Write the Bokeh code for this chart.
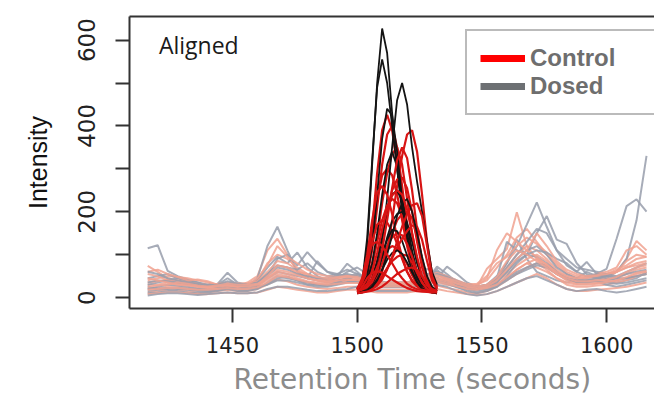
from bokeh.plotting import figure
from bokeh.models import Range1d, FixedTicker, LinearAxis, Legend, LegendItem, Label, Title
from bokeh.embed import file_html
from bokeh.resources import INLINE

# ---------------- data ----------------
# full-run traces (light colours), retention time grid (seconds)
base_time = [1416, 1420, 1424, 1428, 1432, 1436, 1440, 1444, 1448, 1452,
             1456, 1460, 1464, 1468, 1472, 1476, 1480, 1484, 1488, 1492,
             1496, 1500, 1504, 1508, 1512, 1516, 1520, 1524, 1528, 1532,
             1536, 1540, 1544, 1548, 1552, 1556, 1560, 1564, 1568, 1572,
             1576, 1580, 1584, 1588, 1592, 1596, 1600, 1604, 1608, 1612,
             1616]

dosed_base_1 = [115, 122, 62, 50, 42, 35, 28, 30, 45, 30, 25, 45, 120, 165, 110, 60, 45, 40, 35, 40,
                45, 40, 30, 30, 30, 30, 30, 35, 45, 65, 45, 30, 25, 20, 25, 40, 80, 135, 90, 60,
                50, 40, 35, 40, 45, 50, 50, 60, 90, 180, 330]
dosed_base_2 = [45, 50, 55, 45, 40, 35, 30, 32, 58, 35, 30, 40, 70, 95, 80, 105, 70, 50, 40, 45,
                60, 70, 55, 40, 35, 35, 35, 40, 55, 45, 72, 55, 35, 25, 30, 50, 80, 120, 170, 222,
                165, 110, 75, 60, 83, 55, 67, 137, 213, 229, 200]
dosed_base_3 = [30, 35, 40, 45, 38, 30, 28, 25, 30, 28, 30, 35, 50, 90, 100, 75, 106, 80, 60, 55,
                50, 55, 40, 30, 30, 30, 30, 45, 67, 55, 40, 35, 30, 25, 30, 45, 130, 110, 100, 150,
                190, 135, 125, 80, 55, 45, 40, 35, 40, 45, 60]
dosed_base_4 = [20, 25, 30, 28, 25, 22, 20, 22, 25, 22, 25, 30, 45, 60, 55, 50, 45, 85, 60, 50,
                79, 60, 40, 30, 30, 30, 30, 35, 40, 72, 55, 35, 25, 20, 22, 35, 60, 90, 110, 120,
                100, 70, 55, 45, 60, 50, 45, 40, 45, 50, 55]
dosed_base_5 = [10, 12, 15, 15, 12, 10, 12, 15, 20, 15, 15, 20, 35, 50, 45, 40, 30, 25, 25, 30,
                35, 40, 35, 25, 25, 25, 25, 30, 40, 45, 35, 25, 15, 10, 15, 25, 50, 80, 100, 95,
                80, 60, 45, 35, 40, 38, 30, 25, 30, 35, 40]
dosed_base_6 = [25, 20, 22, 20, 18, 15, 15, 18, 22, 20, 20, 25, 30, 40, 40, 35, 30, 30, 28, 35,
                45, 50, 40, 30, 30, 30, 30, 35, 50, 60, 45, 30, 20, 18, 20, 30, 45, 60, 70, 80,
                75, 55, 45, 40, 40, 45, 50, 45, 45, 50, 55]
dosed_base_7 = [5, 8, 10, 10, 8, 6, 8, 10, 12, 10, 10, 12, 20, 25, 25, 22, 18, 15, 15, 18,
                20, 25, 20, 15, 15, 15, 15, 18, 25, 30, 25, 15, 8, 5, 8, 15, 25, 35, 45, 50,
                40, 30, 20, 15, 18, 20, 15, 12, 15, 20, 25]
dosed_base_8 = [35, 40, 38, 35, 32, 30, 28, 30, 38, 32, 30, 35, 55, 75, 70, 65, 80, 60, 50, 55,
                65, 55, 45, 35, 35, 35, 35, 42, 55, 60, 50, 40, 30, 25, 28, 40, 70, 100, 130, 160,
                150, 110, 90, 70, 65, 60, 55, 50, 60, 70, 80]
dosed_base_9 = [60, 55, 45, 40, 36, 32, 30, 28, 32, 30, 28, 32, 50, 70, 65, 55, 50, 45, 45, 50,
                55, 50, 40, 32, 32, 32, 32, 38, 48, 55, 48, 38, 30, 25, 28, 40, 60, 85, 100, 110,
                105, 90, 80, 60, 50, 55, 50, 48, 55, 60, 65]
dosed_base_10 = [15, 18, 20, 22, 20, 18, 16, 18, 22, 20, 18, 22, 32, 45, 48, 40, 35, 30, 28, 32,
                 36, 36, 30, 24, 24, 24, 24, 28, 34, 38, 32, 24, 18, 14, 18, 26, 40, 55, 65, 75,
                 70, 55, 42, 36, 35, 38, 35, 32, 35, 40, 45]

control_base_1 = [74, 60, 45, 40, 35, 30, 28, 25, 30, 28, 35, 50, 110, 137, 100, 60, 45, 40, 38, 40,
                  45, 40, 30, 30, 30, 30, 30, 35, 40, 45, 35, 30, 25, 25, 67, 90, 113, 199, 120, 90,
                  70, 55, 45, 40, 40, 45, 50, 60, 90, 132, 110]
control_base_2 = [40, 45, 50, 48, 45, 40, 35, 30, 30, 28, 30, 40, 80, 100, 90, 70, 55, 45, 40, 45,
                  50, 45, 35, 30, 30, 30, 30, 40, 50, 55, 45, 35, 30, 30, 40, 70, 100, 140, 160, 130,
                  100, 75, 55, 45, 45, 50, 55, 60, 70, 80, 85]
control_base_3 = [30, 30, 35, 32, 30, 28, 25, 28, 30, 28, 28, 35, 55, 75, 70, 55, 45, 40, 35, 38,
                  40, 40, 35, 30, 30, 30, 30, 35, 40, 45, 38, 30, 25, 25, 30, 45, 70, 100, 120, 110,
                  90, 65, 50, 40, 40, 42, 45, 60, 85, 100, 95]
control_base_4 = [20, 22, 25, 25, 22, 20, 20, 22, 25, 22, 22, 28, 40, 55, 50, 40, 35, 30, 30, 32,
                  35, 35, 30, 25, 25, 25, 25, 28, 32, 35, 30, 25, 20, 20, 25, 35, 55, 75, 90, 100,
                  85, 60, 45, 35, 35, 38, 40, 45, 55, 65, 70]
control_base_5 = [12, 15, 18, 18, 15, 12, 12, 15, 18, 15, 15, 20, 30, 42, 38, 30, 25, 22, 20, 22,
                  25, 25, 20, 18, 18, 18, 18, 20, 25, 28, 22, 18, 12, 10, 15, 25, 40, 55, 70, 80,
                  65, 45, 30, 25, 25, 28, 30, 35, 40, 50, 55]
control_base_6 = [55, 50, 40, 35, 30, 25, 22, 20, 22, 20, 20, 25, 45, 60, 55, 45, 38, 35, 32, 35,
                  40, 42, 35, 30, 30, 30, 30, 32, 38, 42, 35, 28, 22, 20, 22, 30, 45, 65, 80, 70,
                  60, 45, 35, 30, 30, 32, 35, 40, 45, 55, 60]
control_base_7 = [8, 10, 12, 12, 10, 8, 8, 10, 12, 10, 10, 12, 18, 25, 22, 18, 15, 12, 12, 15,
                  18, 18, 15, 12, 12, 12, 12, 15, 18, 20, 15, 12, 8, 6, 8, 15, 25, 35, 45, 55,
                  45, 30, 20, 15, 15, 18, 20, 22, 25, 30, 35]
control_base_8 = [35, 38, 42, 40, 36, 32, 30, 32, 35, 33, 33, 38, 60, 85, 80, 65, 50, 45, 42, 45,
                  48, 45, 38, 32, 32, 32, 32, 38, 45, 50, 42, 35, 30, 32, 50, 80, 95, 120, 140, 125,
                  105, 80, 60, 50, 48, 50, 55, 65, 75, 90, 95]
control_base_9 = [60, 65, 55, 48, 40, 42, 38, 30, 28, 25, 30, 45, 75, 120, 95, 80, 65, 55, 50, 48,
                  52, 50, 40, 35, 35, 35, 35, 42, 50, 58, 50, 40, 32, 28, 45, 110, 150, 130, 110, 95,
                  75, 60, 50, 45, 48, 55, 60, 70, 110, 120, 100]
control_base_10 = [25, 28, 30, 35, 32, 28, 26, 28, 32, 30, 30, 32, 45, 65, 60, 52, 45, 40, 38, 40,
                   42, 40, 35, 30, 30, 30, 30, 35, 42, 45, 40, 32, 26, 22, 26, 40, 65, 90, 110, 150,
                   120, 85, 65, 55, 50, 52, 55, 60, 70, 75, 80]
control_base_11 = [45, 40, 35, 30, 28, 26, 24, 26, 28, 26, 26, 30, 50, 75, 70, 60, 55, 48, 45, 48,
                   50, 48, 40, 34, 34, 34, 34, 40, 48, 52, 45, 38, 30, 26, 30, 48, 85, 110, 100, 85,
                   70, 55, 45, 38, 38, 40, 42, 48, 60, 70, 75]
control_base_12 = [18, 20, 22, 22, 20, 18, 18, 20, 22, 20, 20, 24, 35, 50, 48, 42, 36, 32, 30, 32,
                   34, 34, 30, 26, 26, 26, 26, 30, 35, 38, 32, 26, 20, 18, 22, 30, 48, 65, 80, 90,
                   78, 55, 40, 32, 32, 34, 36, 40, 48, 58, 62]

# aligned peak window traces (strong colours)
peak_time = [1500, 1502, 1504, 1506, 1508, 1510, 1512, 1514, 1516, 1518,
             1520, 1522, 1524, 1526, 1528, 1530, 1532]

dosed_peak_1 = [20, 28, 120, 310, 500, 627, 570, 430, 300, 200, 130, 80, 45, 30, 24, 20, 20]
dosed_peak_2 = [22, 35, 140, 320, 490, 555, 500, 400, 300, 210, 140, 85, 50, 32, 25, 22, 20]
dosed_peak_3 = [15, 20, 28, 40, 70, 130, 230, 350, 460, 500, 450, 350, 270, 200, 130, 60, 30]
dosed_peak_4 = [20, 25, 50, 120, 240, 370, 440, 425, 340, 230, 140, 80, 45, 28, 22, 20, 20]
dosed_peak_5 = [20, 24, 40, 80, 150, 240, 310, 340, 305, 230, 150, 90, 50, 30, 22, 20, 20]
dosed_peak_6 = [15, 18, 25, 45, 85, 140, 200, 240, 250, 225, 170, 110, 60, 35, 25, 20, 18]
dosed_peak_7 = [15, 18, 22, 32, 55, 95, 140, 178, 195, 200, 175, 130, 80, 45, 26, 18, 15]
dosed_peak_8 = [12, 15, 22, 35, 60, 98, 135, 158, 155, 132, 98, 62, 36, 22, 15, 12, 12]
dosed_peak_9 = [10, 12, 16, 26, 42, 65, 88, 104, 110, 102, 82, 58, 36, 20, 14, 12, 10]
dosed_peak_10 = [12, 14, 18, 25, 40, 65, 100, 145, 190, 220, 230, 200, 150, 95, 50, 25, 15]

control_peak_1 = [15, 18, 20, 25, 35, 60, 110, 180, 260, 330, 380, 390, 340, 240, 130, 55, 25]
control_peak_2 = [20, 30, 70, 160, 290, 390, 426, 390, 310, 220, 140, 85, 50, 30, 22, 20, 20]
control_peak_3 = [18, 25, 50, 110, 210, 310, 380, 400, 350, 260, 170, 100, 55, 32, 22, 20, 18]
control_peak_4 = [18, 22, 35, 70, 140, 220, 290, 335, 350, 310, 230, 150, 85, 45, 26, 20, 18]
control_peak_5 = [20, 30, 70, 150, 230, 285, 300, 285, 240, 180, 120, 70, 40, 25, 20, 18, 18]
control_peak_6 = [15, 18, 25, 45, 85, 140, 200, 250, 275, 280, 255, 200, 130, 70, 35, 22, 18]
control_peak_7 = [15, 22, 40, 80, 130, 180, 215, 230, 220, 190, 145, 95, 55, 32, 22, 18, 15]
control_peak_8 = [12, 15, 20, 30, 50, 80, 115, 150, 180, 195, 200, 185, 140, 90, 45, 22, 15]
control_peak_9 = [18, 35, 75, 130, 170, 180, 175, 155, 125, 90, 60, 40, 28, 20, 18, 15, 15]
control_peak_10 = [12, 16, 25, 40, 65, 95, 120, 140, 150, 145, 125, 95, 60, 35, 22, 15, 12]
control_peak_11 = [10, 14, 25, 45, 70, 95, 112, 120, 115, 100, 78, 52, 32, 20, 14, 12, 10]
control_peak_12 = [10, 12, 16, 24, 35, 50, 68, 85, 95, 100, 98, 82, 58, 35, 20, 12, 10]
control_peak_13 = [20, 40, 100, 180, 245, 260, 240, 195, 140, 95, 60, 38, 26, 20, 18, 16, 15]
control_peak_14 = [12, 14, 18, 24, 34, 48, 68, 92, 115, 138, 155, 168, 165, 135, 85, 40, 20]
control_peak_15 = [15, 18, 24, 36, 60, 110, 180, 255, 320, 350, 325, 250, 160, 85, 40, 22, 18]
control_peak_16 = [12, 14, 16, 20, 28, 42, 65, 95, 130, 165, 195, 215, 220, 190, 120, 50, 22]
control_peak_17 = [20, 45, 95, 125, 130, 120, 100, 80, 60, 45, 32, 24, 20, 18, 16, 15, 14]
control_peak_18 = [15, 20, 32, 60, 105, 160, 205, 238, 250, 240, 205, 150, 95, 50, 28, 20, 16]
control_peak_19 = [10, 12, 14, 16, 20, 26, 35, 45, 55, 62, 68, 70, 65, 50, 30, 16, 12]
control_peak_20 = [12, 25, 45, 58, 62, 58, 50, 42, 35, 28, 22, 18, 15, 14, 13, 12, 12]

x_ticks = [1450, 1500, 1550, 1600]
y_ticks = [0, 100, 200, 300, 400, 500, 600]
y_tick_labels = {0: "0", 100: "", 200: "200", 300: "", 400: "400", 500: "", 600: "600"}
series_names = ["Control", "Dosed"]
panel_text = "Aligned"

control_base = [control_base_1, control_base_2, control_base_3, control_base_4,
                control_base_5, control_base_6, control_base_7, control_base_8,
                control_base_9, control_base_10, control_base_11, control_base_12]
dosed_base = [dosed_base_1, dosed_base_2, dosed_base_3, dosed_base_4, dosed_base_5,
              dosed_base_6, dosed_base_7, dosed_base_8, dosed_base_9, dosed_base_10]
control_peak = [control_peak_1, control_peak_2, control_peak_3, control_peak_4, control_peak_5,
                control_peak_6, control_peak_7, control_peak_8, control_peak_9, control_peak_10,
                control_peak_11, control_peak_12, control_peak_13, control_peak_14, control_peak_15,
                control_peak_16, control_peak_17, control_peak_18, control_peak_19, control_peak_20]
dosed_peak = [dosed_peak_1, dosed_peak_2, dosed_peak_3, dosed_peak_4, dosed_peak_5,
              dosed_peak_6, dosed_peak_7, dosed_peak_8, dosed_peak_9, dosed_peak_10]

# ---------------- figure ----------------
p = figure(width=654, height=400, output_backend="svg", toolbar_location=None,
           x_range=Range1d(1408.7, 1619.2), y_range=Range1d(-25.5, 655),
           min_border_left=129, min_border_right=0, min_border_top=16, min_border_bottom=90)
p.outline_line_color = None
p.xgrid.visible = False
p.ygrid.visible = False
p.background_fill_color = "white"
p.border_fill_color = "white"

LIGHT_C = "#f0a290"
LIGHT_D = "#989dac"
for i in range(max(len(control_base), len(dosed_base))):
    if i < len(control_base):
        p.line(base_time, control_base[i], line_color=LIGHT_C, line_width=2, line_alpha=0.85)
    if i < len(dosed_base):
        p.line(base_time, dosed_base[i], line_color=LIGHT_D, line_width=2, line_alpha=0.85)

RED = "#d81414"
BLACK = "#141414"
order = [("c", 0), ("c", 1), ("d", 0), ("c", 2), ("c", 3), ("d", 1), ("c", 4), ("d", 2),
         ("c", 5), ("c", 6), ("d", 3), ("c", 7), ("d", 4), ("c", 8), ("d", 5), ("c", 9),
         ("c", 10), ("d", 6), ("c", 11), ("c", 12), ("d", 7), ("c", 13), ("d", 8), ("c", 14),
         ("c", 15), ("d", 9), ("c", 16), ("c", 17), ("c", 18), ("c", 19)]
for kind, idx in order:
    if kind == "c":
        p.line(peak_time, control_peak[idx], line_color=RED, line_width=2.2)
    else:
        p.line(peak_time, dosed_peak[idx], line_color=BLACK, line_width=1.8)

# axes
AX = "#333333"
xa = p.xaxis[0]
xa.ticker = FixedTicker(ticks=x_ticks)
xa.minor_tick_line_color = None
xa.major_tick_in = 0
xa.major_tick_out = 14
xa.major_tick_line_width = 2
xa.major_tick_line_color = AX
xa.axis_line_width = 2
xa.axis_line_color = AX
xa.major_label_text_font = "DejaVu Sans"
xa.major_label_text_font_size = "21px"
xa.major_label_text_color = "#222222"
xa.major_label_standoff = 14

ya = p.yaxis[0]
ya.ticker = FixedTicker(ticks=y_ticks)
ya.major_label_overrides = y_tick_labels
ya.minor_tick_line_color = None
ya.major_tick_in = 0
ya.major_tick_out = 14
ya.major_tick_line_width = 2
ya.major_tick_line_color = AX
ya.axis_line_width = 2
ya.axis_line_color = AX
ya.major_label_orientation = "vertical"
ya.major_label_text_font = "DejaVu Sans"
ya.major_label_text_font_size = "23px"
ya.major_label_text_color = "#222222"
ya.major_label_standoff = 20
ya.axis_label = "Intensity"
ya.axis_label_text_font = "Liberation Sans"
ya.axis_label_text_font_size = "25px"
ya.axis_label_text_font_style = "normal"
ya.axis_label_text_color = "#111111"
ya.axis_label_standoff = 24

top_axis = LinearAxis(ticker=FixedTicker(ticks=[]), major_tick_line_color=None,
                      minor_tick_line_color=None, major_tick_out=0, major_tick_in=0,
                      major_label_standoff=0, axis_line_width=2, axis_line_color=AX)
p.add_layout(top_axis, "above")

p.add_layout(Title(text="Retention Time (seconds)", text_font="DejaVu Sans",
                   text_font_size="28px", text_font_style="normal", text_color="#8c8c8c",
                   align="left", offset=104), "below")

p.add_layout(Label(x=1420.5, y=588, text=panel_text, text_font="Open Sans",
                   text_font_size="23px", text_color="#1a1a1a", text_baseline="middle"))

# legend (single-sample lines draw nothing on the plot, only their legend swatches)
r_c = p.line([peak_time[0]], [control_peak_1[0]], line_color="#ff0000", line_width=7)
r_d = p.line([peak_time[0]], [dosed_peak_1[0]], line_color="#6d7073", line_width=7)
legend = Legend(items=[LegendItem(label=series_names[0], renderers=[r_c]),
                       LegendItem(label=series_names[1], renderers=[r_d])],
                location=(336, 193), orientation="vertical",
                label_text_font="Liberation Sans", label_text_font_size="24px",
                label_text_font_style="bold", label_text_color="#6e6e6e",
                glyph_width=45, glyph_height=26, label_height=26, label_width=118,
                label_standoff=5, spacing=0, padding=13,
                border_line_color="#777777", border_line_width=2,
                background_fill_color="white", background_fill_alpha=1.0)
p.add_layout(legend)

open("out.html", "w").write(file_html(p, INLINE))
